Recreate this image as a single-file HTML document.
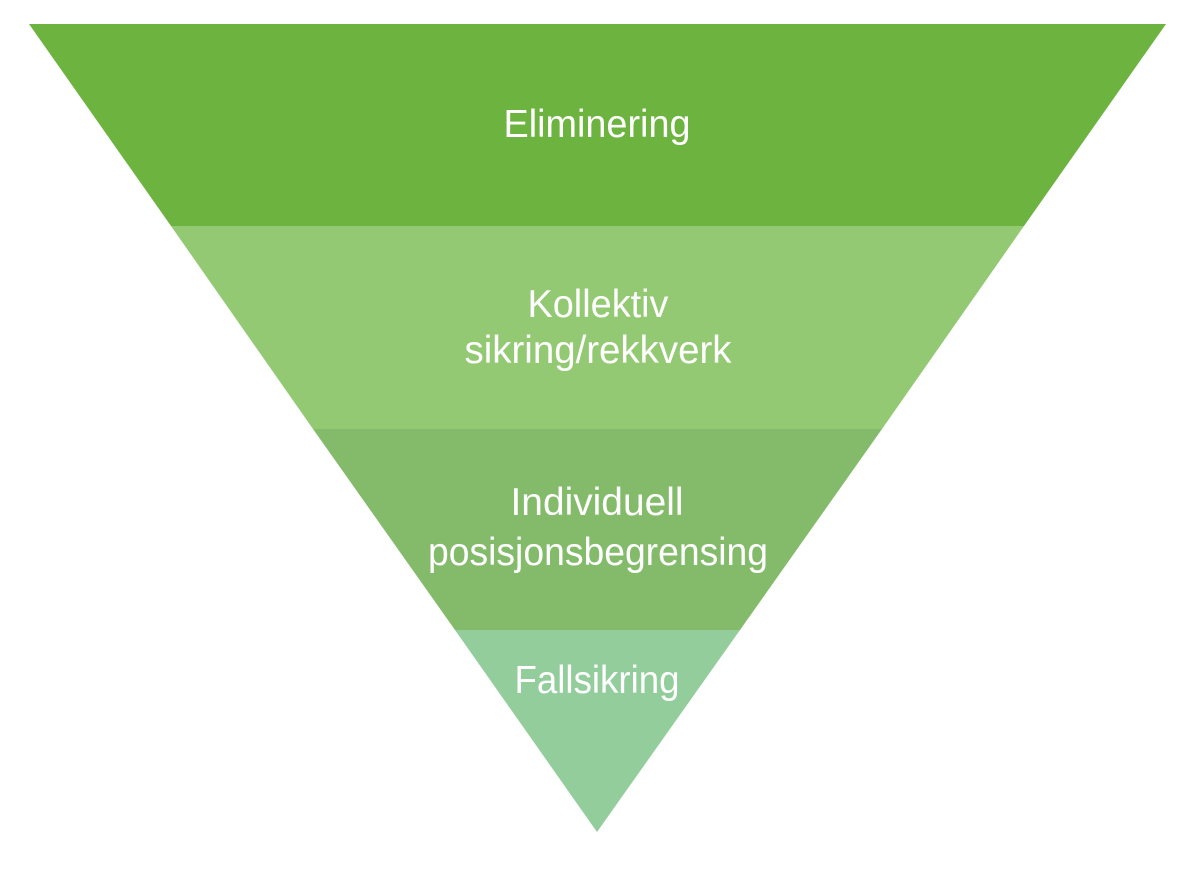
<!DOCTYPE html>
<html>
<head>
<meta charset="utf-8">
<style>
  html, body { margin:0; padding:0; background:#ffffff; }
  body { width:1200px; height:877px; overflow:hidden; }
  svg { display:block; }
  text { font-family: "Liberation Sans", "DejaVu Sans", sans-serif; font-size:39px; fill:#ffffff; text-anchor:middle; }
</style>
</head>
<body>
<svg width="1200" height="877" viewBox="0 0 1200 877" xmlns="http://www.w3.org/2000/svg">
  <polygon points="29,24 1166,24 1024,226 171,226" fill="#6db33f"/>
  <polygon points="171,226 1024,226 882,429 313,429" fill="#93c972"/>
  <polygon points="313,429 882,429 740,630 455,630" fill="#83bb6b"/>
  <polygon points="455,630 740,630 597,832" fill="#92cd9b"/>

  <text x="597" y="137" textLength="187" lengthAdjust="spacingAndGlyphs">Eliminering</text>
  <text x="598" y="317" textLength="141" lengthAdjust="spacingAndGlyphs">Kollektiv</text>
  <text x="598" y="363" textLength="267" lengthAdjust="spacingAndGlyphs">sikring/rekkverk</text>
  <text x="597" y="515" textLength="173" lengthAdjust="spacingAndGlyphs">Individuell</text>
  <text x="598" y="565" textLength="340" lengthAdjust="spacingAndGlyphs">posisjonsbegrensing</text>
  <text x="597" y="693" textLength="165" lengthAdjust="spacingAndGlyphs">Fallsikring</text>
</svg>
</body>
</html>
